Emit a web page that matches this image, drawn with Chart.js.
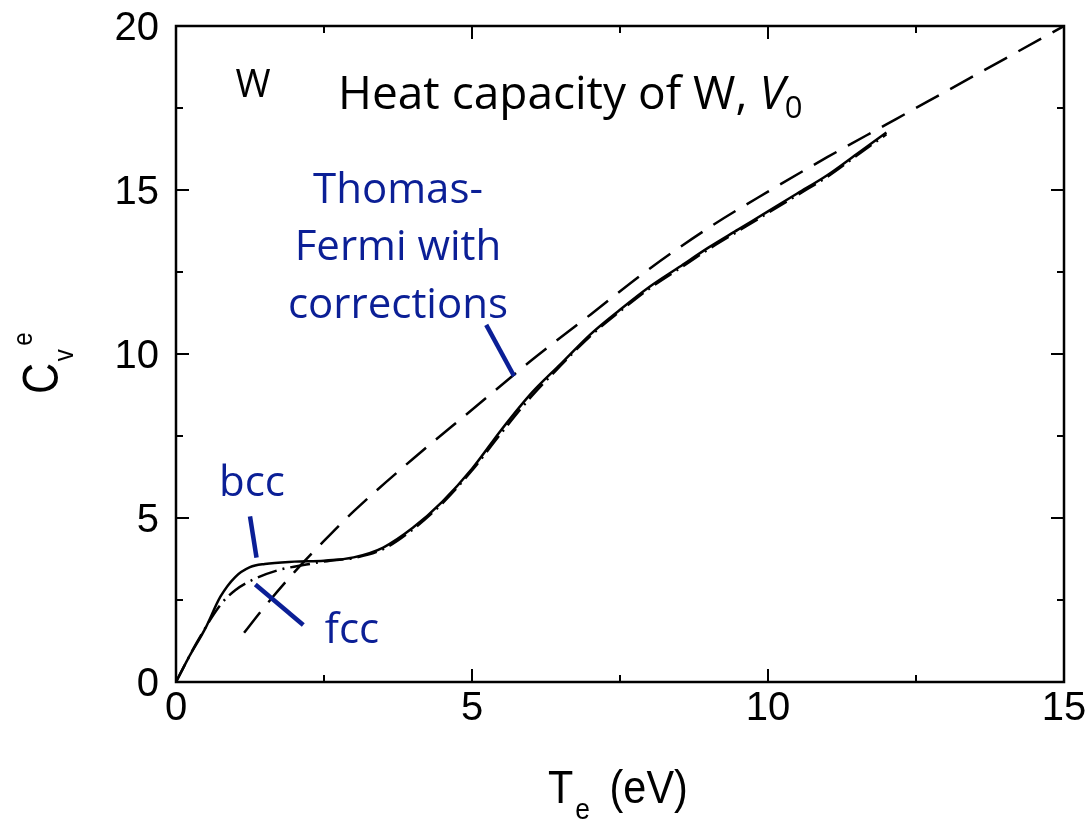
<!DOCTYPE html>
<html>
<head>
<meta charset="utf-8">
<script src="https://cdn.jsdelivr.net/npm/chart.js@4"></script>
<style>
  html, body { margin: 0; padding: 0; background: #fff; }
  #wrap { width: 1089px; height: 820px; }
</style>
</head>
<body>
<div id="wrap"><canvas id="cv_Chart" width="1089" height="820"></canvas></div>
<script>
// bcc (solid)
const bccT = [0, 0.2, 0.5, 0.75, 1, 1.25, 1.5, 2, 2.5, 3, 3.5, 4, 4.5, 5, 5.5, 6, 6.5, 7, 7.5, 8, 8.5, 9, 9.5, 10, 10.5, 11, 11.5, 12];
const bccC = [0, 0.7, 1.65, 2.6, 3.2, 3.5, 3.6, 3.67, 3.7, 3.8, 4.1, 4.7, 5.5, 6.5, 7.7, 8.8, 9.7, 10.6, 11.35, 12.05, 12.65, 13.25, 13.8, 14.35, 14.9, 15.45, 16.1, 16.75];
// fcc (dash-dot)
const fccT = [0, 0.35, 0.75, 1, 1.3, 1.75, 2.2, 2.6, 3, 3.5, 4, 4.5, 5, 5.5, 6, 6.5, 7, 7.5, 8, 8.5, 9, 9.5, 10, 10.5, 11, 11.5, 12];
const fccC = [0, 1.2, 2.35, 2.8, 3.12, 3.42, 3.58, 3.7, 3.78, 4.05, 4.65, 5.45, 6.45, 7.6, 8.7, 9.65, 10.55, 11.3, 12.0, 12.6, 13.2, 13.75, 14.3, 14.85, 15.4, 16.05, 16.7];
// Thomas-Fermi with corrections (dashed)
const tfT = [1.15, 1.5, 2, 2.5, 3, 4, 5, 6, 7, 8, 9, 10, 11, 12, 13, 14, 15];
const tfC = [1.5, 2.3, 3.35, 4.3, 5.2, 6.8, 8.3, 9.8, 11.2, 12.6, 13.85, 14.95, 16.0, 17.0, 18.0, 19.0, 20.0];

const xTicks = [0, 5, 10, 15];
const yTicks = [0, 5, 10, 15, 20];

// blue pointer lines, in data units: [x1, y1, x2, y2]
const pointerLines = [
  [1.25, 5.05, 1.36, 3.79],
  [1.34, 2.97, 2.15, 1.74],
  [5.24, 10.89, 5.71, 9.33],
];

const BLUE = "#0b1f96";
const TICK_FONT = "40px 'Liberation Sans'";

function pts(xs, ys) {
  return xs.map((x, i) => ({ x: x, y: ys[i] }));
}

const decorPlugin = {
  id: "decor",
  afterDraw(chart) {
    const ctx = chart.ctx;
    const ca = chart.chartArea;
    const xs = chart.scales.x;
    const ys = chart.scales.y;
    const px = (v) => xs.getPixelForValue(v);
    const py = (v) => ys.getPixelForValue(v);
    ctx.save();

    // frame
    ctx.strokeStyle = "#000";
    ctx.lineWidth = 2.5;
    ctx.strokeRect(ca.left, ca.top, ca.right - ca.left, ca.bottom - ca.top);

    // inward ticks on all four sides
    ctx.lineWidth = 2;
    ctx.beginPath();
    for (let v = 0; v <= 15; v += 2.5) {
      const len = v % 5 === 0 ? 13 : 7;
      ctx.moveTo(px(v), ca.bottom);
      ctx.lineTo(px(v), ca.bottom - len);
      ctx.moveTo(px(v), ca.top);
      ctx.lineTo(px(v), ca.top + len);
    }
    for (let v = 0; v <= 20; v += 2.5) {
      const len = v % 5 === 0 ? 13 : 7;
      ctx.moveTo(ca.left, py(v));
      ctx.lineTo(ca.left + len, py(v));
      ctx.moveTo(ca.right, py(v));
      ctx.lineTo(ca.right - len, py(v));
    }
    ctx.stroke();

    // tick labels
    ctx.fillStyle = "#000";
    ctx.font = TICK_FONT;
    ctx.textBaseline = "alphabetic";
    ctx.textAlign = "center";
    xTicks.forEach((v) => ctx.fillText(String(v), px(v), 720));
    ctx.textAlign = "right";
    yTicks.forEach((v) => ctx.fillText(String(v), 159, py(v) + 14));

    // pointer lines
    ctx.strokeStyle = BLUE;
    ctx.lineWidth = 4.5;
    ctx.lineCap = "butt";
    pointerLines.forEach((l) => {
      ctx.beginPath();
      ctx.moveTo(px(l[0]), py(l[1]));
      ctx.lineTo(px(l[2]), py(l[3]));
      ctx.stroke();
    });

    // texts inside plot
    ctx.textBaseline = "alphabetic";
    ctx.fillStyle = "#000";
    ctx.textAlign = "center";
    ctx.font = "38px 'Open Sans'";
    ctx.fillText("W", px(1.3), 97);

    ctx.textAlign = "left";
    ctx.font = "46px 'Open Sans'";
    let tx = 338;
    const ty = 109;
    const head = "Heat capacity of W, ";
    ctx.fillText(head, tx, ty);
    tx += ctx.measureText(head).width;
    ctx.font = "italic 46px 'Open Sans'";
    ctx.fillText("V", tx, ty);
    tx += ctx.measureText("V").width;
    ctx.font = "31px 'Open Sans'";
    ctx.fillText("0", tx, ty + 9);

    ctx.fillStyle = BLUE;
    ctx.textAlign = "center";
    ctx.font = "42px 'Open Sans'";
    ctx.fillText("Thomas-", px(3.75), 203);
    ctx.fillText("Fermi with", px(3.75), 260);
    ctx.fillText("corrections", px(3.75), 318);
    ctx.fillText("bcc", 252, 496);
    ctx.fillText("fcc", 352, 643);

    // axis titles
    ctx.fillStyle = "#000";
    ctx.textAlign = "left";
    ctx.save();
    ctx.translate(548, 803);
    ctx.scale(0.88, 1);
    ctx.font = "47px 'Liberation Sans'";
    ctx.fillText("T", 0, 0);
    ctx.font = "30px 'Liberation Sans'";
    ctx.fillText("e", 31, 16);
    ctx.font = "47px 'Liberation Sans'";
    ctx.fillText("(eV)", 70, 0);
    ctx.restore();

    ctx.save();
    ctx.translate(58, 394);
    ctx.rotate(-Math.PI / 2);
    ctx.scale(0.86, 1);
    ctx.font = "50px 'Liberation Sans'";
    ctx.fillText("C", 0, 0);
    ctx.font = "28px 'Liberation Sans'";
    ctx.fillText("v", 38, 15);
    ctx.fillText("e", 56, -26);
    ctx.restore();
    ctx.restore();
  },
};

function initChart() {
  const ctx = document.getElementById("cv_Chart").getContext("2d");
  new Chart(ctx, {
    type: "scatter",
    data: {
      datasets: [
        {
          label: "Thomas-Fermi",
          data: pts(tfT, tfC),
          showLine: true,
          borderColor: "#000",
          borderWidth: 2.5,
          borderDash: [26, 13],
          pointRadius: 0,
          cubicInterpolationMode: "monotone",
        },
        {
          label: "fcc",
          data: pts(fccT, fccC),
          showLine: true,
          borderColor: "#000",
          borderWidth: 2.5,
          borderDash: [20, 6, 2, 6],
          pointRadius: 0,
          cubicInterpolationMode: "monotone",
        },
        {
          label: "bcc",
          data: pts(bccT, bccC),
          showLine: true,
          borderColor: "#000",
          borderWidth: 2.5,
          pointRadius: 0,
          cubicInterpolationMode: "monotone",
        },
      ],
    },
    options: {
      responsive: false,
      animation: false,
      layout: { padding: { left: 0, right: 25, top: 26, bottom: 0 } },
      plugins: {
        legend: { display: false },
        tooltip: { enabled: false },
      },
      scales: {
        x: {
          type: "linear",
          min: 0,
          max: 15,
          afterFit: (s) => { s.height = 138; },
          grid: { display: false },
          border: { display: false },
          ticks: { display: false, stepSize: 5 },
        },
        y: {
          type: "linear",
          min: 0,
          max: 20,
          afterFit: (s) => { s.width = 176; },
          grid: { display: false },
          border: { display: false },
          ticks: { display: false, stepSize: 5 },
        },
      },
    },
    plugins: [decorPlugin],
  });
}

window.onload = initChart;
</script>
</body>
</html>
